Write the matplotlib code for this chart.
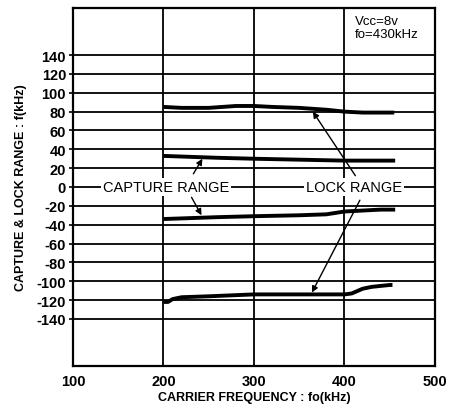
import matplotlib
matplotlib.use("Agg")
import matplotlib.pyplot as plt
import numpy as np

plt.rcParams['font.family'] = ['Liberation Sans', 'DejaVu Sans']

# Data
lock_up_x = [200, 220, 250, 280, 300, 320, 350, 380, 400, 420, 440, 455]
lock_up_y = [85, 84, 84, 86, 86, 85, 84, 82, 80, 79, 79, 79]

cap_up_x = [200, 230, 260, 300, 350, 400, 430, 456]
cap_up_y = [33, 32, 31, 30, 29, 28, 28, 28]

cap_lo_x = [200, 230, 260, 300, 350, 380, 400, 420, 440, 456]
cap_lo_y = [-34, -33, -32, -31, -30, -29, -26, -25, -24, -24]

lock_lo_x = [200, 205, 210, 220, 250, 300, 350, 380, 400, 408, 420, 430, 450, 453]
lock_lo_y = [-122, -122, -119, -117, -116, -114, -114, -114, -114, -113, -108, -106, -104, -104]

xticks = [100, 200, 300, 400, 500]
yticks = list(range(-140, 141, 20))

fig = plt.figure(figsize=(4.52, 4.06), dpi=100)
ax = fig.add_axes([73/452, 1-367/406, (435-73)/452, (367-9)/406])
ax.set_xlim(100, 500)
ax.set_ylim(-190, 190)

for y in yticks:
    ax.axhline(y, color='black', lw=1.3, zorder=1)
for x in [200, 300, 400]:
    ax.axvline(x, color='black', lw=1.3, zorder=1)

for xs, ys in [(lock_up_x, lock_up_y), (cap_up_x, cap_up_y), (cap_lo_x, cap_lo_y), (lock_lo_x, lock_lo_y)]:
    ax.plot(xs, ys, color='black', lw=2.8, solid_capstyle='butt', zorder=3)

ax.set_xticks(xticks)
ax.set_xticklabels([str(v) for v in xticks], fontsize=10.5, fontweight='bold')
ax.set_yticks(yticks)
ax.set_yticklabels([str(v) for v in yticks], fontsize=10.5, fontweight='bold')
ax.tick_params(axis='x', length=0, pad=6)
ax.tick_params(axis='y', length=3, width=1.2, pad=2)
for s in ax.spines.values():
    s.set_linewidth(1.6)

ax.set_xlabel('CARRIER FREQUENCY : fo(kHz)', fontsize=9, fontweight='bold', labelpad=2)
ax.set_ylabel('CAPTURE & LOCK RANGE : f(kHz)', fontsize=9, fontweight='bold', labelpad=7)

bb = dict(facecolor='white', edgecolor='none', pad=1.5)
ax.text(203, 0, 'CAPTURE RANGE', ha='center', va='center', fontsize=10.5, bbox=bb, zorder=4)
ax.text(410, 0, 'LOCK RANGE', ha='center', va='center', fontsize=10.5, bbox=bb, zorder=4)

ap = dict(arrowstyle='-|>', color='black', lw=1.0, mutation_scale=9, shrinkA=0, shrinkB=0)
ax.annotate('', xy=(243, 30), xytext=(233, 14), arrowprops=ap, zorder=5)
ax.annotate('', xy=(242, -30), xytext=(231, -11), arrowprops=ap, zorder=5)
ax.annotate('', xy=(365, 80), xytext=(412, 12), arrowprops=ap, zorder=5)
ax.annotate('', xy=(364, -112), xytext=(417, -14), arrowprops=ap, zorder=5)

ax.text(411, 183, 'Vcc=8v\nfo=430kHz', ha='left', va='top', fontsize=9.5, linespacing=1.15)

fig.savefig('out.png', dpi=100)
